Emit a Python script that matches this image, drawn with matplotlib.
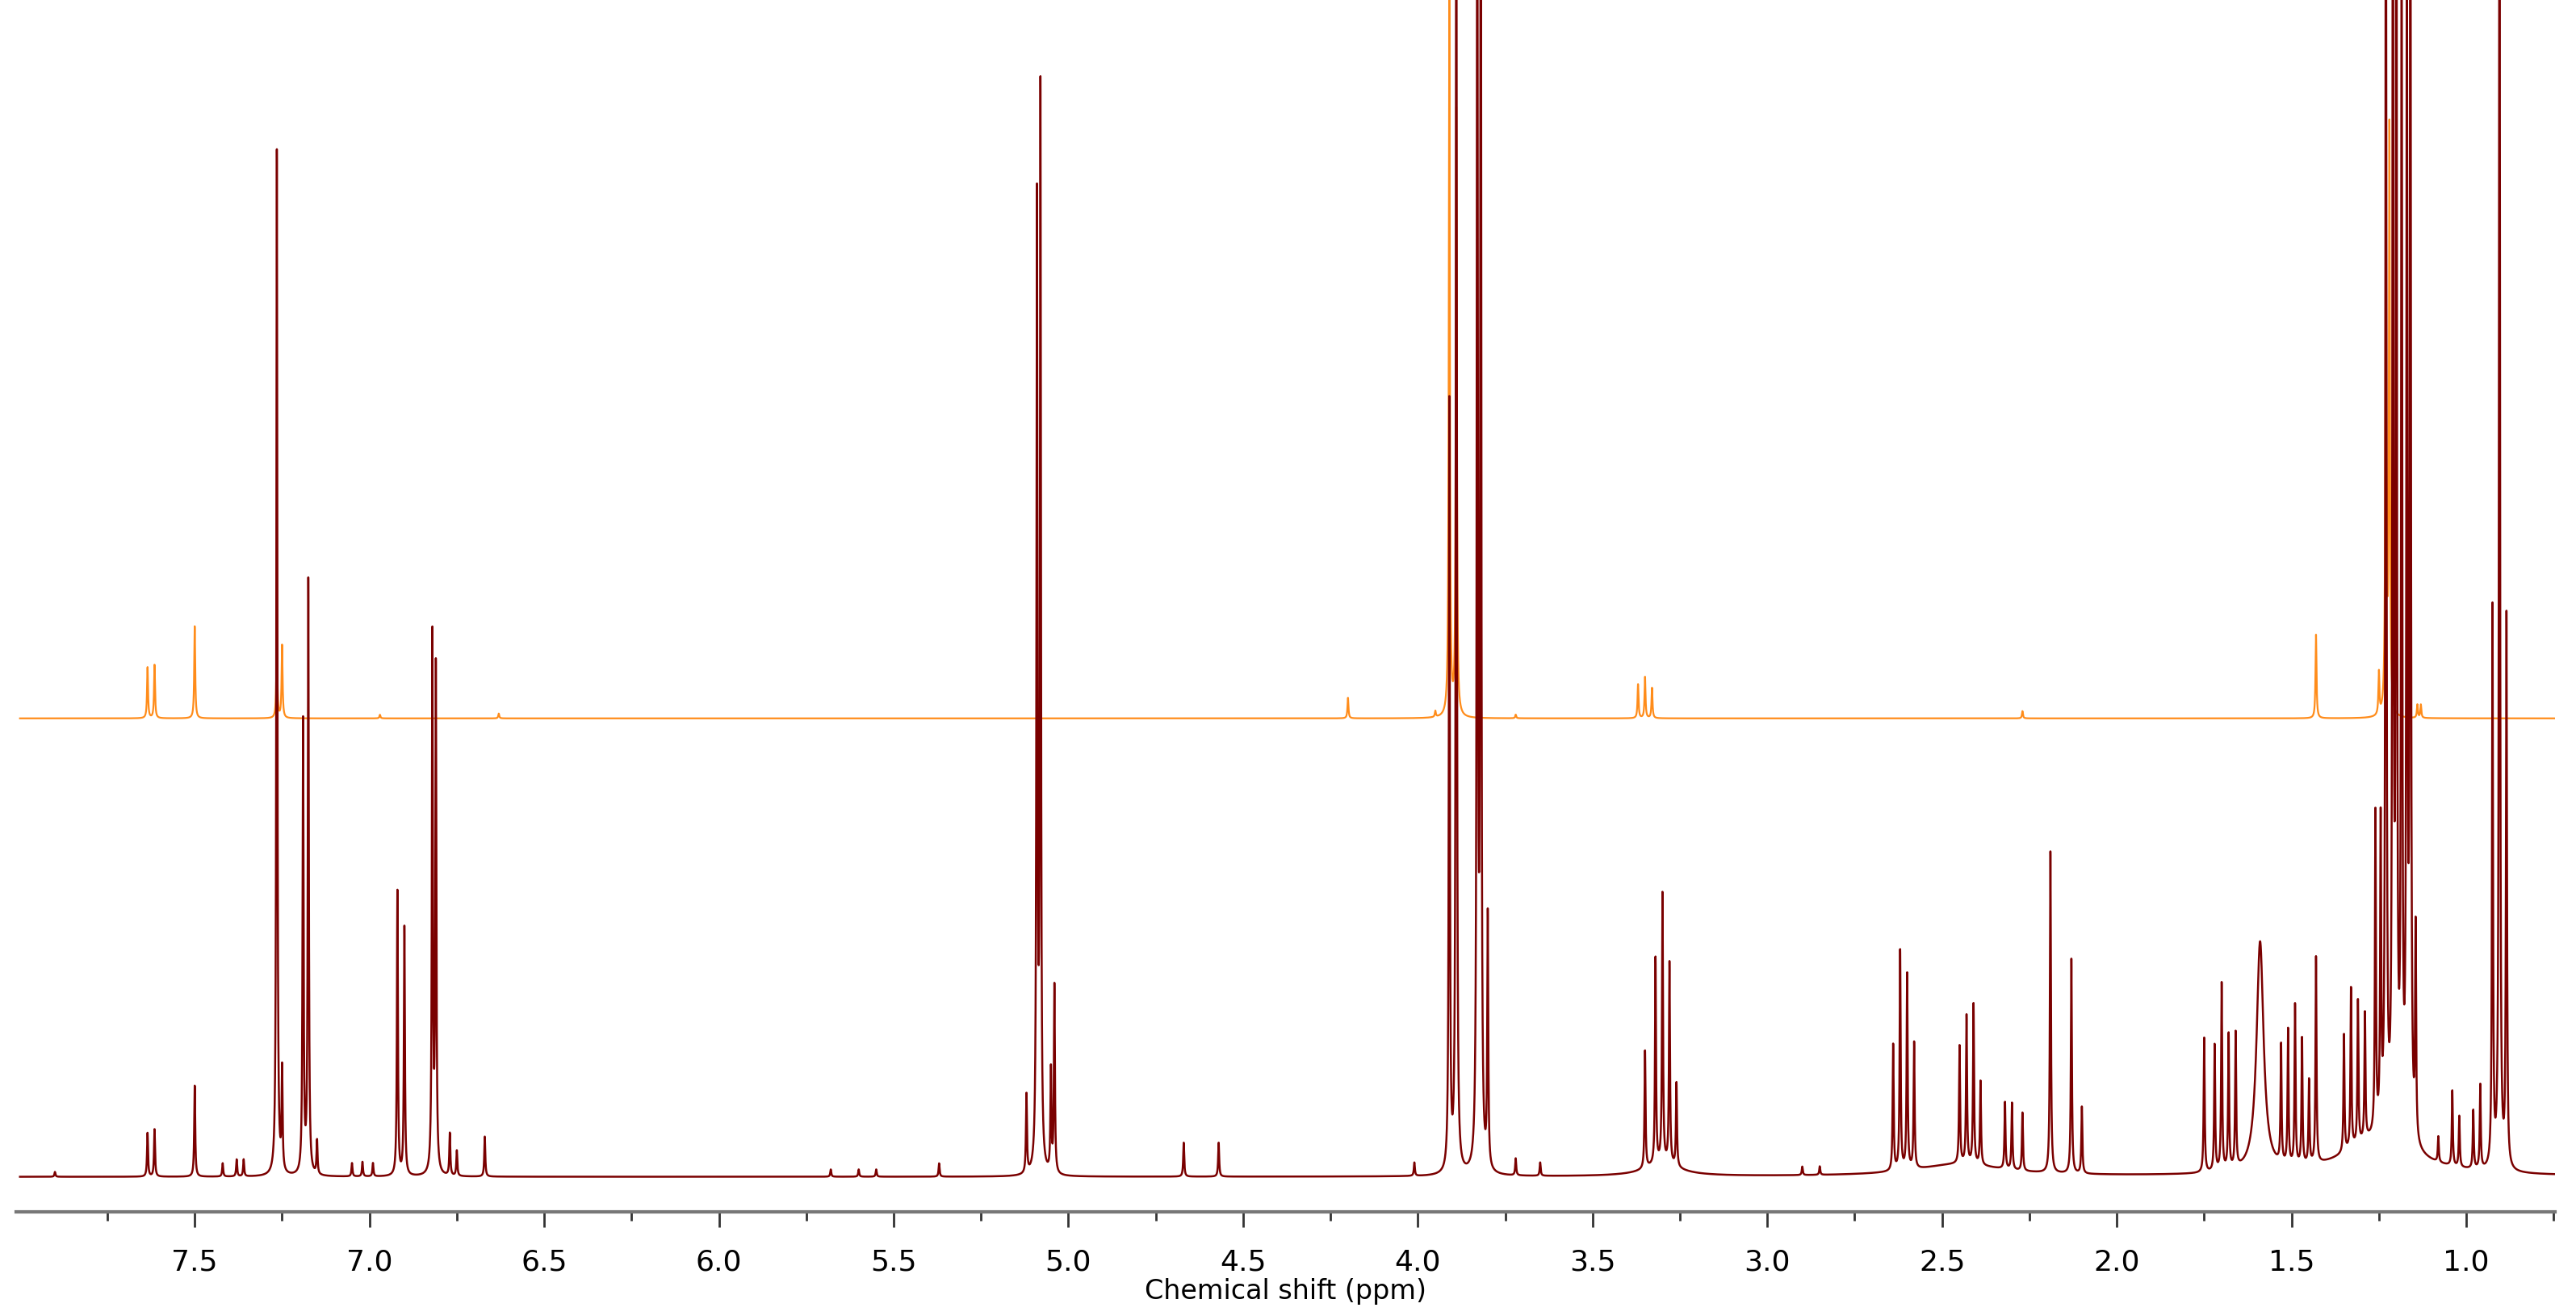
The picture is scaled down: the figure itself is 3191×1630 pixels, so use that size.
import matplotlib.pyplot as plt
import numpy as np

# peak lists: (ppm, height as fraction of plot height)
top_ppm = [7.635, 7.615, 7.50, 7.265, 7.25, 6.97, 6.63, 4.20, 3.95, 3.91, 3.89,
           3.37, 3.35, 3.33, 3.72, 2.27, 1.43, 1.25, 1.23, 1.22, 1.14, 1.13]
top_h = [0.042, 0.044, 0.076, 0.069, 0.060, 0.003, 0.004, 0.017, 0.005, 0.59, 0.50,
         0.028, 0.034, 0.025, 0.003, 0.006, 0.069, 0.035, 0.49, 0.48, 0.011, 0.011]

bot_ppm = [7.90, 7.635, 7.615, 7.50, 7.42, 7.38, 7.36, 7.265, 7.25, 7.19, 7.175, 7.15,
           7.05, 7.02, 6.99, 6.92, 6.90, 6.82, 6.81, 6.77, 6.75, 6.67,
           5.68, 5.60, 5.55, 5.37, 5.12, 5.09, 5.08, 5.05, 5.04, 4.67, 4.57, 4.01,
           3.91, 3.89, 3.83, 3.82, 3.80, 3.72, 3.65,
           3.35, 3.32, 3.30, 3.28, 3.26, 2.90, 2.85,
           2.64, 2.62, 2.60, 2.58, 2.45, 2.43, 2.41, 2.39, 2.32, 2.30, 2.27,
           2.19, 2.13, 2.10, 1.75, 1.72, 1.70, 1.68, 1.66,
           1.53, 1.51, 1.49, 1.47, 1.45, 1.43, 1.35, 1.33, 1.31, 1.29,
           1.26, 1.245, 1.23, 1.21, 1.20, 1.185, 1.17, 1.16, 1.145,
           1.08, 1.04, 1.02, 0.98, 0.96, 0.925, 0.905, 0.885, 0.67, 0.65]
bot_h = [0.004, 0.036, 0.039, 0.075, 0.011, 0.014, 0.014, 0.846, 0.083, 0.373, 0.489, 0.028,
         0.011, 0.012, 0.011, 0.235, 0.205, 0.442, 0.415, 0.035, 0.021, 0.033,
         0.006, 0.006, 0.006, 0.011, 0.065, 0.794, 0.885, 0.084, 0.155, 0.028, 0.028, 0.011,
         0.634, 1.2, 1.2, 1.2, 0.208, 0.014, 0.011,
         0.097, 0.170, 0.222, 0.166, 0.069, 0.007, 0.007,
         0.104, 0.181, 0.161, 0.104, 0.097, 0.122, 0.132, 0.069, 0.055, 0.055, 0.048,
         0.265, 0.177, 0.055, 0.111, 0.104, 0.154, 0.111, 0.111,
         0.097, 0.111, 0.132, 0.104, 0.069, 0.170, 0.097, 0.132, 0.118, 0.104,
         0.263, 0.249, 1.2, 1.2, 1.2, 1.0, 0.97, 1.2, 0.173,
         0.021, 0.062, 0.042, 0.048, 0.069, 0.460, 1.2, 0.454, 0.118, 0.114]
# broad features: (ppm, height, half width)
bot_broad = [(1.59, 0.19, 0.012), (1.25, 0.03, 0.12), (3.30, 0.01, 0.06), (2.45, 0.01, 0.15)]

top_base = 0.407
bot_base = 0.029


def spectrum(x, ppm, h, hw=0.0017):
    y = np.zeros_like(x)
    for p, a in zip(ppm, h):
        y += a / (1 + ((x - p) / hw) ** 2)
    return y


x = np.linspace(8.0, 0.737, 80000)
y_top = top_base + spectrum(x, top_ppm, top_h)
y_bot = bot_base + spectrum(x, bot_ppm, bot_h)
for p, a, w in bot_broad:
    y_bot += a / (1 + ((x - p) / w) ** 2)

fig = plt.figure(figsize=(31.91, 16.31), dpi=100)
ax = fig.add_axes([0.0064, 0.079, 0.9856, 0.921])
ax.plot(x, y_top, color="#ff8c1a", lw=1.6)
ax.plot(x, y_bot, color="#7a0000", lw=1.8)
ax.set_xlim(8.01, 0.745)
ax.set_ylim(0, 1.0)

for s in ["top", "left", "right"]:
    ax.spines[s].set_visible(False)
ax.spines["bottom"].set_color("#777777")
ax.spines["bottom"].set_linewidth(3)
ax.set_yticks([])
ax.set_xticks(np.arange(1.0, 7.51, 0.5))
ax.set_xticklabels([f"{v:.1f}" for v in np.arange(1.0, 7.51, 0.5)])
ax.set_xticks(np.arange(0.75, 8.0, 0.25), minor=True)
ax.tick_params(axis="x", which="major", length=14, width=2, color="#333333",
               labelsize=26, pad=18)
ax.tick_params(axis="x", which="minor", length=8, width=2, color="#333333")
ax.set_xlabel("Chemical shift (ppm)", fontsize=24, labelpad=2)

fig.savefig("out.png", dpi=100)
